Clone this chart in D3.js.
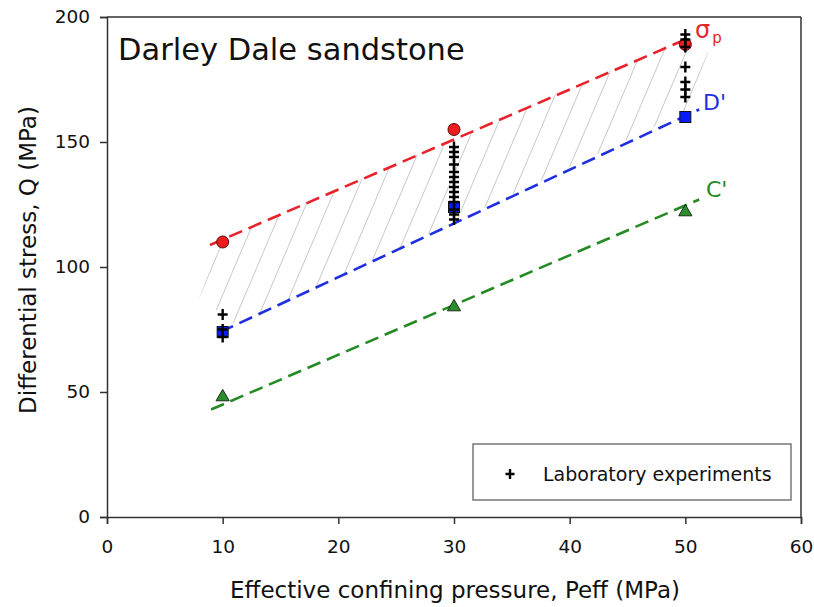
<!DOCTYPE html>
<html><head><meta charset="utf-8">
<script src="https://cdn.jsdelivr.net/npm/d3@7"></script>
<style>body{margin:0;background:#fff}svg{display:block}text{font-family:"DejaVu Sans",Verdana,sans-serif}</style>
</head><body><svg id="c" width="814" height="607"></svg>
<script>
// ---- data ----
const xTicks = [0,10,20,30,40,50,60];
const yTicks = [0,50,100,150,200];
const pressures = [10,30,50];
const sigmaP = [110,155,189];      // red circles
const dPrime = [74,124,160];       // blue squares
const cPrime = [48,84,122];        // green triangles
const sigmaLine = [[8.9,108.8],[50,191]];
const dLine = [[9.8,74],[51.2,163]];
const cLine = [[9.0,43],[51.2,127]];
const labX = [10,10,10, 30,30,30,30,30,30,30,30,30,30,30,30,30,30, 50,50,50,50,50,50,50];
const labQ = [81,75,72, 148,146,144,141,138,136,134,132,130,128,126,123,121,119, 193,191,188,180,174,171,168];
const hatchPoly = [[8.0,88],[9.9,111],[50.3,192],[52,186],[50,162],[11.2,76.5]];

const svg = d3.select("#c");
const L=107,R=801,T=17,B=517;
const x = d3.scaleLinear().domain([0,60]).range([L,R]);
const y = d3.scaleLinear().domain([0,200]).range([B,T]);
const frame="#333";

// hatch
svg.append("clipPath").attr("id","hc").append("path")
  .attr("d", d3.line().x(d=>x(d[0])).y(d=>y(d[1]))(hatchPoly)+"Z");
const hg = svg.append("g").attr("clip-path","url(#hc)");
const slope=2.35, sp=22.5, x0=x(10), yb=y(110);
for(let k=-2;k<24;k++){
  const cx=x0+k*sp;
  hg.append("line").attr("x1",cx-200/slope).attr("y1",yb+200).attr("x2",cx+260/slope).attr("y2",yb-260)
    .attr("stroke","#c8c8c8").attr("stroke-width",1);
}

// axes
const xa = svg.append("g").attr("transform",`translate(0,${B})`)
  .call(d3.axisBottom(x).tickValues(xTicks).tickSize(7).tickPadding(16));
const ya = svg.append("g").attr("transform",`translate(${L},0)`)
  .call(d3.axisLeft(y).tickValues(yTicks).tickSize(7).tickPadding(10));
[xa,ya].forEach(a=>{a.selectAll("path,line").attr("stroke",frame).attr("stroke-width",1.5);
  a.selectAll("text").attr("font-size",18.5).attr("fill","#111").style("font-family",'"DejaVu Sans",Verdana,sans-serif');});
svg.append("line").attr("x1",L).attr("x2",R).attr("y1",T).attr("y2",T).attr("stroke",frame).attr("stroke-width",1.5);
svg.append("line").attr("x1",R).attr("x2",R).attr("y1",T).attr("y2",B).attr("stroke",frame).attr("stroke-width",1.5);

// dashed lines
const ln = d3.line().x(d=>x(d[0])).y(d=>y(d[1]));
[[sigmaLine,"#e8222a"],[dLine,"#1f2fe0"],[cLine,"#248a24"]].forEach(([d,c])=>{
  svg.append("path").attr("d",ln(d)).attr("stroke",c).attr("stroke-width",2.6).attr("fill","none").attr("stroke-dasharray","14,7");
});

// markers
svg.selectAll(".tri").data(pressures).join("path")
  .attr("transform",(d,i)=>`translate(${x(d)},${y(cPrime[i])})`)
  .attr("d",d3.symbol(d3.symbolTriangle,75)).attr("fill","#2a8f2a").attr("stroke","#1a2a1a").attr("stroke-width",1);
svg.selectAll(".sq").data(pressures).join("rect")
  .attr("x",d=>x(d)-5.5).attr("y",(d,i)=>y(dPrime[i])-5.5).attr("width",11).attr("height",11)
  .attr("fill","#0a1cff").attr("stroke","#111").attr("stroke-width",1);
svg.selectAll(".ci").data(pressures).join("circle")
  .attr("cx",d=>x(d)).attr("cy",(d,i)=>y(sigmaP[i])).attr("r",6)
  .attr("fill","#ee1c1c").attr("stroke","#5a0a0a").attr("stroke-width",1);

// crosses
const cross="M-5,0H5M0,-5.5V5.5";
svg.selectAll(".cr").data(labX).join("path")
  .attr("transform",(d,i)=>`translate(${x(d)},${y(labQ[i])})`)
  .attr("d",cross).attr("stroke","#000").attr("stroke-width",2.4).attr("fill","none");

// line labels
const sl = svg.append("text").attr("x",695).attr("y",38).attr("fill","#e8222a").attr("font-size",24);
sl.append("tspan").text("σ");
sl.append("tspan").attr("dy",5).attr("dx",2).attr("font-size",15).text("p");
svg.append("text").attr("x",703).attr("y",110).attr("fill","#1f2fe0").attr("font-size",22).text("D'");
svg.append("text").attr("x",706).attr("y",197).attr("fill","#248a24").attr("font-size",22).text("C'");

// title
svg.append("text").attr("x",118).attr("y",60).attr("font-size",30.5).attr("fill","#111").text("Darley Dale sandstone");

// legend
svg.append("rect").attr("x",473).attr("y",444).attr("width",318).attr("height",56)
  .attr("fill","#fff").attr("stroke","#555").attr("stroke-width",1.2);
svg.append("path").attr("transform","translate(510,474)").attr("d","M-4.5,0H4.5M0,-5V5").attr("stroke","#000").attr("stroke-width",2.4);
svg.append("text").attr("x",543).attr("y",481).attr("font-size",19).attr("fill","#111").text("Laboratory experiments");

// axis titles
svg.append("text").attr("x",455).attr("y",598).attr("text-anchor","middle").attr("font-size",23).attr("fill","#111")
  .text("Effective confining pressure, Peff (MPa)");
svg.append("text").attr("transform","translate(36,260) rotate(-90)").attr("text-anchor","middle").attr("font-size",23).attr("fill","#111")
  .text("Differential stress, Q (MPa)");
</script></body></html>
